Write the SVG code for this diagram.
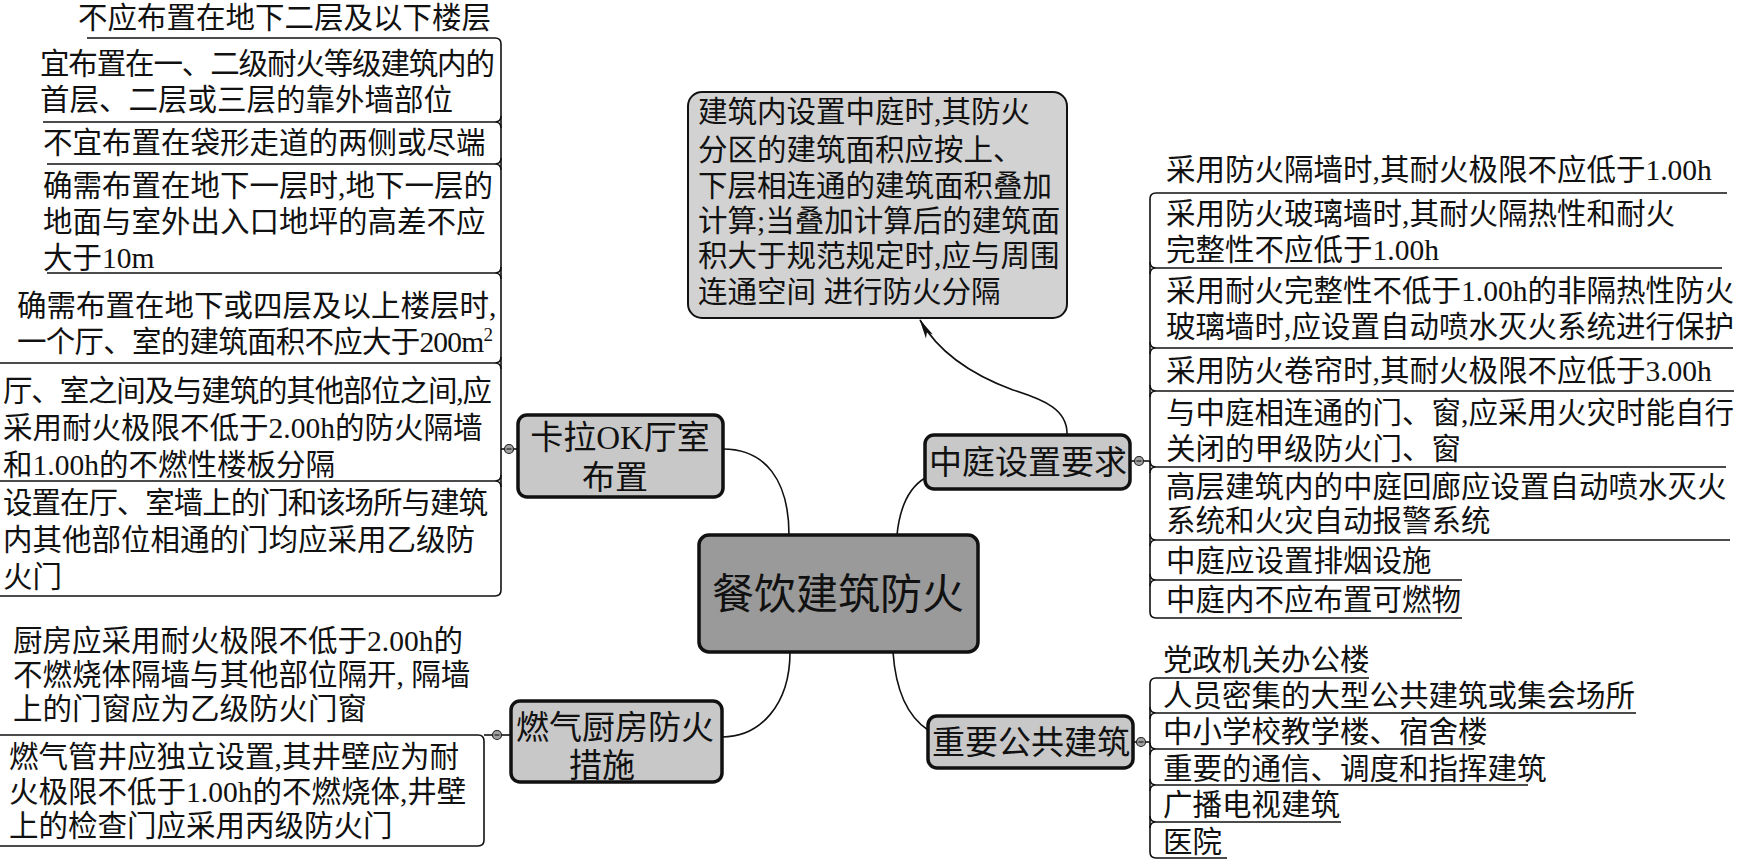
<svg xmlns="http://www.w3.org/2000/svg" width="1741" height="863" viewBox="0 0 1741 863">
<defs>
<style>
.t{font-family:"Liberation Serif","Noto Sans CJK SC",serif;font-size:29.5px;fill:#111}
.n1{font-size:33px}
.n0{font-size:42px}
.ln{fill:none;stroke:#111;stroke-width:1.6}
.cn{fill:none;stroke:#111;stroke-width:1.6}
.b1{fill:#c8c8c8;stroke:#111;stroke-width:3.5}
.b0{fill:#9a9a9a;stroke:#111;stroke-width:3.5}
.bn{fill:#d2d2d2;stroke:#111;stroke-width:2}
.dot{fill:#a0a0a0;stroke:#222;stroke-width:1.2}
.mn{stroke:#333;stroke-width:1.4}
</style>
<marker id="arr" viewBox="0 0 20 10" refX="19" refY="5" markerWidth="20" markerHeight="10" markerUnits="userSpaceOnUse" orient="auto">
<path d="M0,1 L20,5 L0,9 L5,5 Z" fill="#111"/>
</marker>
</defs>
<rect width="1741" height="863" fill="#fff"/>

<g id="connectors">
<path class="cn" d="M789,535 C789,480 765,449 723,449"/>
<path class="cn" d="M897,535 C900,505 910,487 925,478"/>
<path class="cn" d="M790,652 C790,705 760,737 722,737"/>
<path class="cn" d="M893,652 C896,695 910,718 928,730"/>
<path class="cn" d="M1067,435 C1068,410 1045,400 1013,390 C975,376 940,355 920,320" marker-end="url(#arr)"/>
<!-- left bracket group -->
<path class="ln" d="M87,38 H495 Q501,38 501,44 V590 Q501,596 495,596 H0"/>
<path class="ln" d="M43,122 H495 Q501,122 501,116 M495,122 Q501,122 501,128"/>
<path class="ln" d="M47,164 H495 Q501,164 501,158 M495,164 Q501,164 501,170"/>
<path class="ln" d="M47,273 H495 Q501,273 501,267 M495,273 Q501,273 501,279"/>
<path class="ln" d="M0,363 H495 Q501,363 501,357 M495,363 Q501,363 501,369"/>
<path class="ln" d="M0,481 H495 Q501,481 501,475 M495,481 Q501,481 501,487"/>
<path class="ln" d="M501,449 H518"/>
<!-- lower left group -->
<path class="ln" d="M0,735 H478 Q484,735 484,741 V840 Q484,846 478,846 H0"/>
<path class="ln" d="M484,735 H511"/>
<!-- right group -->
<path class="ln" d="M1727,193 H1156 Q1150,193 1150,199 V612 Q1150,618 1156,618 H1462"/>
<path class="ln" d="M1722,268 H1156 Q1150,268 1150,262 M1156,268 Q1150,268 1150,274"/>
<path class="ln" d="M1733,348 H1156 Q1150,348 1150,342 M1156,348 Q1150,348 1150,354"/>
<path class="ln" d="M1734,391 H1156 Q1150,391 1150,385 M1156,391 Q1150,391 1150,397"/>
<path class="ln" d="M1726,467 H1156 Q1150,467 1150,461 M1156,467 Q1150,467 1150,473"/>
<path class="ln" d="M1730,540 H1156 Q1150,540 1150,534 M1156,540 Q1150,540 1150,546"/>
<path class="ln" d="M1462,580 H1156 Q1150,580 1150,574 M1156,580 Q1150,580 1150,586"/>
<path class="ln" d="M1130,461 H1150"/>
<!-- bottom right group -->
<path class="ln" d="M1369,678 H1156 Q1150,678 1150,684 V852 Q1150,858 1156,858 H1227"/>
<path class="ln" d="M1636,713 H1156 Q1150,713 1150,707 M1156,713 Q1150,713 1150,719"/>
<path class="ln" d="M1474,749 H1156 Q1150,749 1150,743 M1156,749 Q1150,749 1150,755"/>
<path class="ln" d="M1528,785 H1156 Q1150,785 1150,779 M1156,785 Q1150,785 1150,791"/>
<path class="ln" d="M1341,822 H1156 Q1150,822 1150,816 M1156,822 Q1150,822 1150,828"/>
<path class="ln" d="M1133,742 H1150"/>
<!-- collapse dots -->
<circle class="dot" cx="509" cy="449" r="4.5"/><path class="mn" d="M506.5,449 H511.5"/>
<circle class="dot" cx="497" cy="735" r="4.5"/><path class="mn" d="M494.5,735 H499.5"/>
<circle class="dot" cx="1139" cy="461" r="4.5"/><path class="mn" d="M1136.5,461 H1141.5"/>
<circle class="dot" cx="1141" cy="742" r="4.5"/><path class="mn" d="M1138.5,742 H1143.5"/>
</g>

<g id="center">
<rect class="b0" x="699" y="535" width="279" height="117" rx="10"/>
<text class="t n0" x="838" y="609" text-anchor="middle">餐饮建筑防火</text>
</g>

<g id="ktv">
<rect class="b1" x="518" y="415" width="205" height="82" rx="9"/>
<text class="t n1" x="620" y="449" text-anchor="middle">卡拉OK厅室</text>
<text class="t n1" x="615" y="489" text-anchor="middle">布置</text>
</g>

<g id="atrium">
<rect class="b1" x="925" y="435" width="205" height="54" rx="9"/>
<text class="t n1" x="1028" y="474" text-anchor="middle">中庭设置要求</text>
</g>

<g id="kitchen">
<rect class="b1" x="511" y="701" width="211" height="81" rx="9"/>
<text class="t n1" x="615" y="739" text-anchor="middle">燃气厨房防火</text>
<text class="t n1" x="602" y="777" text-anchor="middle">措施</text>
</g>

<g id="public">
<rect class="b1" x="928" y="716" width="205" height="52" rx="9"/>
<text class="t n1" x="1031" y="754" text-anchor="middle">重要公共建筑</text>
</g>

<g id="atrium-note">
<rect class="bn" x="688" y="92" width="379" height="226" rx="14"/>
<text class="t" x="698" y="122">建筑内设置中庭时,其防火</text>
<text class="t" x="698" y="160">分区的建筑面积应按上、</text>
<text class="t" x="698" y="196">下层相连通的建筑面积叠加</text>
<text class="t" x="698" y="231">计算;当叠加计算后的建筑面</text>
<text class="t" x="698" y="266">积大于规范规定时,应与周围</text>
<text class="t" x="698" y="302">连通空间 进行防火分隔</text>
</g>

<g id="ktv-items">
<text class="t" x="78" y="28">不应布置在地下二层及以下楼层</text>
<text class="t" x="40" y="74" textLength="455" lengthAdjust="spacing">宜布置在一、二级耐火等级建筑内的</text>
<text class="t" x="40" y="110">首层、二层或三层的靠外墙部位</text>
<text class="t" x="43" y="153">不宜布置在袋形走道的两侧或尽端</text>
<text class="t" x="43" y="196">确需布置在地下一层时,地下一层的</text>
<text class="t" x="43" y="232">地面与室外出入口地坪的高差不应</text>
<text class="t" x="43" y="268">大于10m</text>
<text class="t" x="17" y="316">确需布置在地下或四层及以上楼层时,</text>
<text class="t" x="17" y="352" textLength="476" lengthAdjust="spacing">一个厅、室的建筑面积不应大于200m<tspan dy="-11" font-size="19">2</tspan></text>
<text class="t" x="3" y="401" textLength="489" lengthAdjust="spacing">厅、室之间及与建筑的其他部位之间,应</text>
<text class="t" x="3" y="438">采用耐火极限不低于2.00h的防火隔墙</text>
<text class="t" x="3" y="475">和1.00h的不燃性楼板分隔</text>
<text class="t" x="3" y="513" textLength="485" lengthAdjust="spacing">设置在厅、室墙上的门和该场所与建筑</text>
<text class="t" x="3" y="550">内其他部位相通的门均应采用乙级防</text>
<text class="t" x="3" y="587">火门</text>
</g>

<g id="kitchen-items">
<text class="t" x="13" y="651">厨房应采用耐火极限不低于2.00h的</text>
<text class="t" x="13" y="685">不燃烧体隔墙与其他部位隔开, 隔墙</text>
<text class="t" x="13" y="719">上的门窗应为乙级防火门窗</text>
<text class="t" x="9" y="767">燃气管井应独立设置,其井壁应为耐</text>
<text class="t" x="9" y="802">火极限不低于1.00h的不燃烧体,井壁</text>
<text class="t" x="9" y="836">上的检查门应采用丙级防火门</text>
</g>

<g id="atrium-items">
<text class="t" x="1166" y="180">采用防火隔墙时,其耐火极限不应低于1.00h</text>
<text class="t" x="1166" y="224">采用防火玻璃墙时,其耐火隔热性和耐火</text>
<text class="t" x="1166" y="260">完整性不应低于1.00h</text>
<text class="t" x="1166" y="301">采用耐火完整性不低于1.00h的非隔热性防火</text>
<text class="t" x="1166" y="337">玻璃墙时,应设置自动喷水灭火系统进行保护</text>
<text class="t" x="1166" y="381">采用防火卷帘时,其耐火极限不应低于3.00h</text>
<text class="t" x="1166" y="423">与中庭相连通的门、窗,应采用火灾时能自行</text>
<text class="t" x="1166" y="459">关闭的甲级防火门、窗</text>
<text class="t" x="1166" y="497">高层建筑内的中庭回廊应设置自动喷水灭火</text>
<text class="t" x="1166" y="531">系统和火灾自动报警系统</text>
<text class="t" x="1166" y="571">中庭应设置排烟设施</text>
<text class="t" x="1166" y="610">中庭内不应布置可燃物</text>
</g>

<g id="public-items">
<text class="t" x="1163" y="670">党政机关办公楼</text>
<text class="t" x="1163" y="706">人员密集的大型公共建筑或集会场所</text>
<text class="t" x="1163" y="742">中小学校教学楼、宿舍楼</text>
<text class="t" x="1163" y="779">重要的通信、调度和指挥建筑</text>
<text class="t" x="1163" y="815">广播电视建筑</text>
<text class="t" x="1163" y="852">医院</text>
</g>
</svg>
